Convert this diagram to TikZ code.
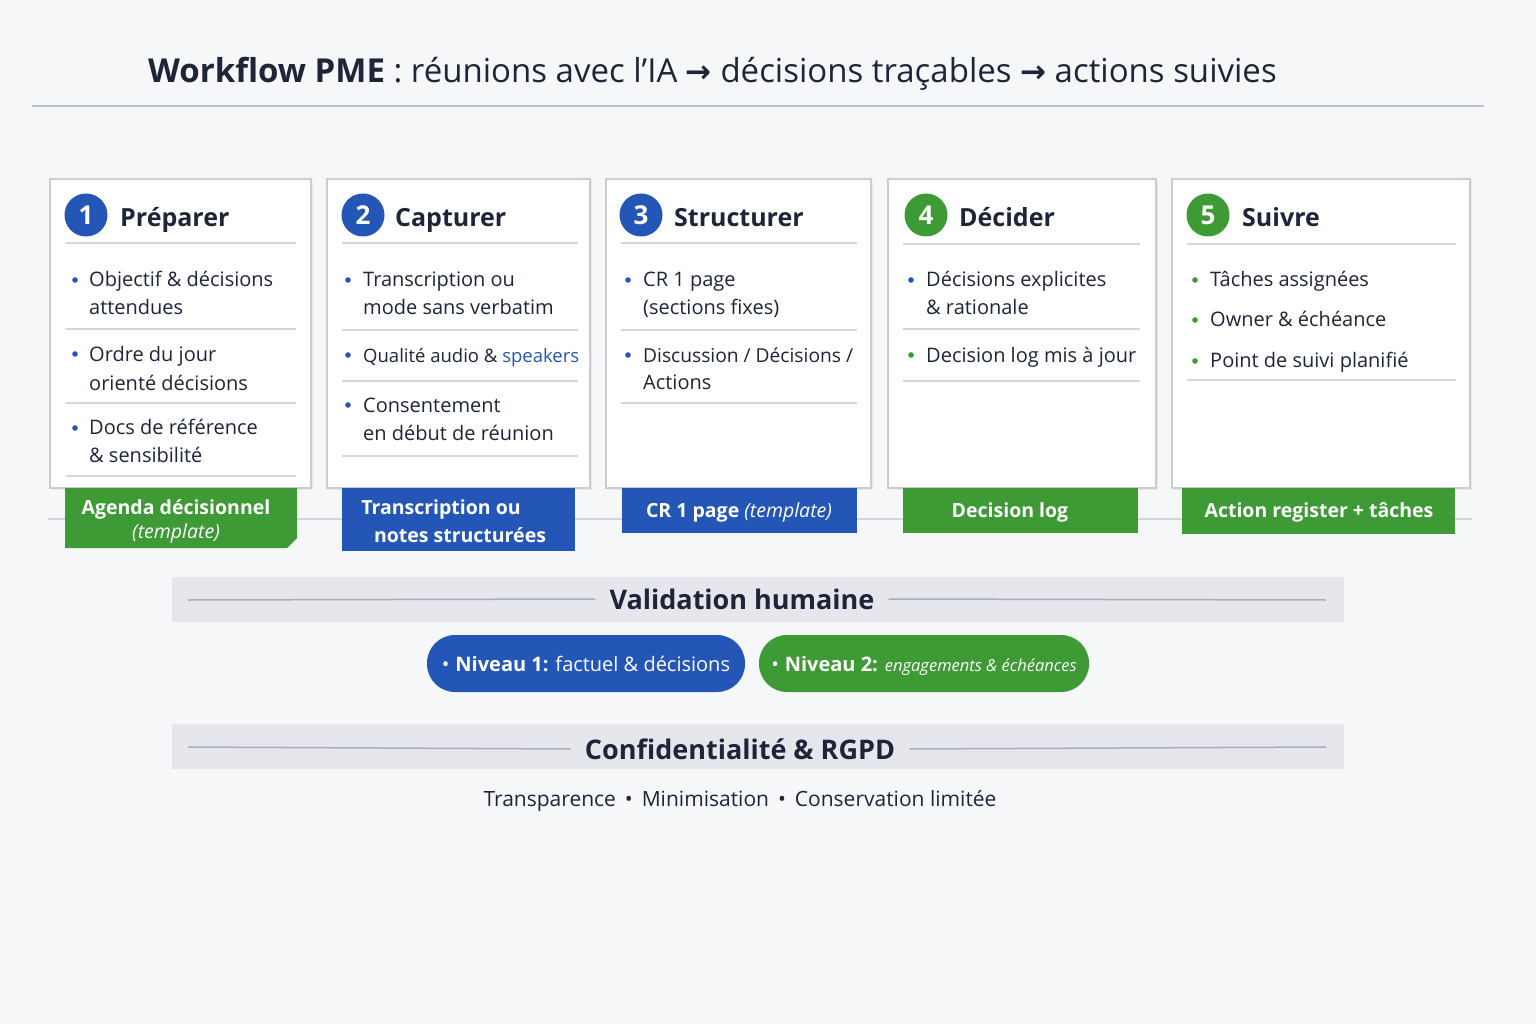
\documentclass[tikz,border=0pt]{standalone}
\usepackage{fontspec}
\setmainfont{Open Sans}
\newfontfamily\arrowfont{DejaVu Sans}
\usetikzlibrary{calc}
\definecolor{bg}{HTML}{F6F7F9}
\definecolor{ink}{HTML}{1E2538}
\definecolor{cblue}{HTML}{2456B8}
\definecolor{cgreen}{HTML}{3D9A35}
\definecolor{band}{HTML}{E5E7EC}
\definecolor{rulec}{HTML}{A9AEB8}
\definecolor{sepc}{HTML}{D3D6DC}
\definecolor{cardb}{HTML}{C9CCD3}
\begin{document}
\begin{tikzpicture}[x=1pt,y=-1pt,
  txt/.style={anchor=mid west,inner sep=0pt,yshift=-5pt,text=ink,font=\fontsize{20}{24}\selectfont},
  head/.style={anchor=mid west,inner sep=0pt,yshift=-7pt,text=ink,font=\fontsize{25}{30}\selectfont\bfseries},
  num/.style={circle,minimum size=43pt,inner sep=0pt,text=white,font=\fontsize{26}{30}\selectfont\bfseries},
  card/.style={draw=cardb,fill=white,line width=1.2pt},
  shadowc/.style={fill=black!9},
  sepl/.style={draw=sepc,line width=1.5pt},
  tabt/.style={inner sep=0pt,text=white,font=\fontsize{19.5}{24}\selectfont\bfseries},
  bandt/.style={inner sep=14pt,text=ink,font=\fontsize{27}{32}\selectfont\bfseries},
  rulel/.style={draw=rulec,line width=1.5pt},
  pill/.style={rounded corners=28pt,inner sep=0pt,text height=19pt,text depth=4pt,text=white,font=\fontsize{20}{24}\selectfont},
]
\useasboundingbox (0,0) rectangle (1536,1024);
\fill[bg] (0,0) rectangle (1536,1024);

% title
\node[anchor=mid west,inner sep=0pt,yshift=-9pt,text=ink,font=\fontsize{33}{40}\selectfont] (title) at (148,71)
 {\textbf{Workflow PME} : réunions avec l’IA {\arrowfont\bfseries\fontsize{31}{34}\selectfont →} décisions traçables {\arrowfont\bfseries\fontsize{31}{34}\selectfont →} actions suivies};
\draw[draw=rulec!80,line width=1.2pt] (32,106) -- (1484,106);

% cards shadows and bodies
\foreach \a/\b in {50/311,327/590,606/871,888/1156,1172/1470}{
  \fill[shadowc] (\a+2,181) rectangle (\b+2,490);
  \draw[card] (\a,179) rectangle (\b,488);
}

% line behind tabs
\draw[draw=sepc,line width=1.5pt] (48,519) -- (1472,519);

% ---- card 1
\node[num,fill=cblue] (n1) at (86,215) {1};
\node[head] (h1) at (120,217) {Préparer};
\draw[sepl] (66,243) -- (296,243);
\fill[cblue] (75,280) circle (2.8);
\node[txt] (c1a) at (89,279) {Objectif \& décisions};
\node[txt] (c1b) at (89,307) {attendues};
\draw[sepl] (66,329) -- (296,329);
\fill[cblue] (75,354) circle (2.8);
\node[txt] (c1c) at (89,354) {Ordre du jour};
\node[txt] (c1d) at (89,383) {orienté décisions};
\draw[sepl] (66,403) -- (296,403);
\fill[cblue] (75,428) circle (2.8);
\node[txt] (c1e) at (89,427) {Docs de référence};
\node[txt] (c1f) at (89,455) {\& sensibilité};
\draw[sepl] (66,476) -- (296,476);

% ---- card 2
\node[num,fill=cblue] (n2) at (363,215) {2};
\node[head] (h2) at (395,217) {Capturer};
\draw[sepl] (342,243) -- (578,243);
\fill[cblue] (348,280) circle (2.8);
\node[txt] (c2a) at (363,279) {Transcription ou};
\node[txt] (c2b) at (363,307) {mode sans verbatim};
\draw[sepl] (342,330) -- (578,330);
\fill[cblue] (348,355) circle (2.8);
\node[txt,font=\fontsize{18.5}{22}\selectfont] (c2c) at (363,355) {Qualité audio \& \textcolor{cblue}{speakers}};
\draw[sepl] (342,381) -- (578,381);
\fill[cblue] (348,405) circle (2.8);
\node[txt] (c2d) at (363,405) {Consentement};
\node[txt] (c2e) at (363,433) {en début de réunion};
\draw[sepl] (342,456) -- (578,456);

% ---- card 3
\node[num,fill=cblue] (n3) at (641,215) {3};
\node[head] (h3) at (674,217) {Structurer};
\draw[sepl] (621,243) -- (857,243);
\fill[cblue] (628,280) circle (2.8);
\node[txt] (c3a) at (643,279) {CR 1 page};
\node[txt] (c3b) at (643,307) {(sections fixes)};
\draw[sepl] (621,330) -- (857,330);
\fill[cblue] (628,355) circle (2.8);
\node[txt,font=\fontsize{19.2}{23}\selectfont] (c3c) at (643,355) {Discussion / Décisions /};
\node[txt] (c3d) at (643,382) {Actions};
\draw[sepl] (621,403) -- (857,403);

% ---- card 4
\node[num,fill=cgreen] (n4) at (926,215) {4};
\node[head] (h4) at (959,217) {Décider};
\draw[sepl] (903,244) -- (1140,244);
\fill[cblue] (911,280) circle (2.8);
\node[txt] (c4a) at (926,279) {Décisions explicites};
\node[txt] (c4b) at (926,307) {\& rationale};
\draw[sepl] (903,329) -- (1140,329);
\fill[cgreen] (911,355) circle (2.8);
\node[txt] (c4c) at (926,355) {Decision log mis à jour};
\draw[sepl] (903,381) -- (1140,381);

% ---- card 5
\node[num,fill=cgreen] (n5) at (1208,215) {5};
\node[head] (h5) at (1242,217) {Suivre};
\draw[sepl] (1187,244) -- (1456,244);
\fill[cgreen] (1195,280) circle (2.8);
\node[txt] (c5a) at (1210,279) {Tâches assignées};
\fill[cgreen] (1195,320) circle (2.8);
\node[txt] (c5b) at (1210,319) {Owner \& échéance};
\fill[cgreen] (1195,361) circle (2.8);
\node[txt] (c5c) at (1210,360) {Point de suivi planifié};
\draw[sepl] (1187,380) -- (1456,380);

% ---- tabs
\fill[cgreen] (65,488) -- (297,488) -- (297,538) -- (287,548) -- (65,548) -- cycle;
\node[tabt] (t1a) at (176,509) {Agenda décisionnel};
\node[tabt,font=\fontsize{19.5}{24}\selectfont\itshape] (t1b) at (176,533) {(template)};

\fill[cblue] (342,488) rectangle (575,551);
\node[tabt] (t2a) at (441,509) {Transcription ou};
\node[tabt] (t2b) at (460,535) {notes structurées};

\fill[cblue] (622,488) rectangle (857,533);
\node[tabt] (t3) at (739,512) {CR 1 page {\mdseries\itshape (template)}};

\fill[cgreen] (903,488) rectangle (1138,533);
\node[tabt] (t4) at (1010,512) {Decision log};

\fill[cgreen] (1182,488) rectangle (1455,534);
\node[tabt] (t5) at (1319,512) {Action register + tâches};

% ---- validation band
\fill[band] (172,577) rectangle (1344,622);
\node[bandt] (vh) at (742,599) {Validation humaine};
\draw[rulel] (188,600) -- (vh.west);
\draw[rulel] (vh.east) -- (1326,600);

\node[pill,fill=cblue,minimum width=318pt,minimum height=57pt] (p1) at (586,663.5)
  {\textbullet\hspace{6pt}\textbf{Niveau 1:} factuel \& décisions};
\node[pill,fill=cgreen,minimum width=330pt,minimum height=57pt] (p2) at (924,663.5)
  {\textbullet\hspace{6pt}\textbf{Niveau 2:} {\itshape\fontsize{16.5}{22}\selectfont engagements \& échéances}};

% ---- RGPD band
\fill[band] (172,724) rectangle (1344,769);
\node[bandt] (rg) at (740,749) {Confidentialité \& RGPD};
\draw[rulel] (188,747) -- (rg.west);
\draw[rulel] (rg.east) -- (1326,747);

\node[inner sep=0pt,yshift=-3pt,text=ink,font=\fontsize{21}{25}\selectfont] (foot) at (740,798)
  {Transparence \,\textbullet\, Minimisation \,\textbullet\, Conservation limitée};
\end{tikzpicture}
\end{document}
